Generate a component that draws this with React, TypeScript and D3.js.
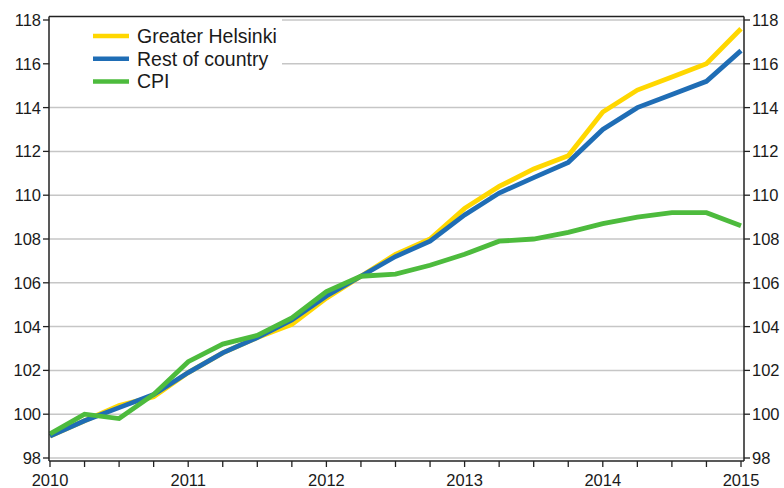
import { line, range, scaleLinear } from 'd3'

const quarters = [
  '2010Q1', '2010Q2', '2010Q3', '2010Q4',
  '2011Q1', '2011Q2', '2011Q3', '2011Q4',
  '2012Q1', '2012Q2', '2012Q3', '2012Q4',
  '2013Q1', '2013Q2', '2013Q3', '2013Q4',
  '2014Q1', '2014Q2', '2014Q3', '2014Q4',
  '2015Q1',
]

const greaterHelsinki = [
  99.0, 99.7, 100.4, 100.8, 101.9, 102.8, 103.5, 104.1, 105.3, 106.3, 107.3,
  108.0, 109.4, 110.4, 111.2, 111.8, 113.8, 114.8, 115.4, 116.0, 117.6,
]
const restOfCountry = [
  99.0, 99.7, 100.3, 100.9, 101.9, 102.8, 103.5, 104.3, 105.4, 106.3, 107.2,
  107.9, 109.1, 110.1, 110.8, 111.5, 113.0, 114.0, 114.6, 115.2, 116.6,
]
const cpi = [
  99.1, 100.0, 99.8, 100.9, 102.4, 103.2, 103.6, 104.4, 105.6, 106.3, 106.4,
  106.8, 107.3, 107.9, 108.0, 108.3, 108.7, 109.0, 109.2, 109.2, 108.6,
]

const yearLabels = ['2010', '2011', '2012', '2013', '2014', '2015']
const yTicks = [98, 100, 102, 104, 106, 108, 110, 112, 114, 116, 118]

const series = [
  { name: 'Greater Helsinki', values: greaterHelsinki, color: '#ffd700' },
  { name: 'Rest of country', values: restOfCountry, color: '#1f6db5' },
  { name: 'CPI', values: cpi, color: '#4dbb3d' },
]

function quarterToYear(q: string) {
  return Number(q.slice(0, 4)) + (Number(q.slice(5)) - 1) / 4
}

const width = 784
const height = 488
const frame = { left: 49, right: 744, top: 16.5, bottom: 461 }
const font = '"Liberation Sans", Arial, sans-serif'

export default function App() {
  const x = scaleLinear().domain([2010, 2015]).range([50, 741])
  const y = scaleLinear().domain([98, 118]).range([458, 20])
  const quarterTicks = quarters.map(quarterToYear)

  const path = line<number>()
    .x((_, i) => x(quarterToYear(quarters[i])))
    .y(d => y(d))

  return (
    <svg
      width={width}
      height={height}
      style={{ position: 'absolute', left: 0, top: 0, background: '#fff' }}
    >
      {yTicks.map(t => (
        <line
          key={`g${t}`}
          x1={frame.left}
          x2={frame.right}
          y1={y(t)}
          y2={y(t)}
          stroke="#c6c6c6"
          strokeWidth={1.5}
        />
      ))}

      {/* legend box hides the grid behind it */}
      <rect x={frame.left + 1} y={frame.top + 1} width={232} height={84} fill="#fff" />
      {series.map((s, i) => (
        <g key={s.name} transform={`translate(0, ${36 + i * 22.7})`}>
          <line x1={93} x2={129} stroke={s.color} strokeWidth={4.5} />
          <text x={137} dy="0.36em" fontFamily={font} fontSize={19.5} fill="#1a1a1a">
            {s.name}
          </text>
        </g>
      ))}

      {series.map(s => (
        <path
          key={s.name}
          d={path(s.values) ?? ''}
          fill="none"
          stroke={s.color}
          strokeWidth={4.8}
          strokeLinejoin="miter"
        />
      ))}

      {/* frame */}
      <line x1={frame.left} x2={frame.right} y1={frame.top} y2={frame.top} stroke="#222" strokeWidth={1.3} />
      <line x1={frame.left} x2={frame.right} y1={frame.bottom} y2={frame.bottom} stroke="#222" strokeWidth={1.5} />
      <line x1={frame.left} x2={frame.left} y1={frame.top} y2={frame.bottom} stroke="#222" strokeWidth={1.5} />
      <line x1={frame.right} x2={frame.right} y1={frame.top} y2={frame.bottom} stroke="#222" strokeWidth={1.5} />

      {yTicks.map(t => (
        <g key={`t${t}`}>
          <line x1={frame.left - 6} x2={frame.left} y1={y(t)} y2={y(t)} stroke="#222" strokeWidth={1.3} />
          <line x1={frame.right} x2={frame.right + 6} y1={y(t)} y2={y(t)} stroke="#222" strokeWidth={1.3} />
          <text x={frame.left - 8} y={y(t)} dy="0.36em" textAnchor="end" fontFamily={font} fontSize={16.5} fill="#1a1a1a">
            {t}
          </text>
          <text x={frame.right + 8} y={y(t)} dy="0.36em" fontFamily={font} fontSize={16.5} fill="#1a1a1a">
            {t}
          </text>
        </g>
      ))}

      {quarterTicks.map(q => (
        <line key={`q${q}`} x1={x(q)} x2={x(q)} y1={frame.bottom} y2={frame.bottom + 6} stroke="#222" strokeWidth={1.3} />
      ))}
      {range(yearLabels.length).map(i => (
        <text
          key={yearLabels[i]}
          x={x(Number(yearLabels[i]))}
          y={486}
          textAnchor="middle"
          fontFamily={font}
          fontSize={16.5}
          fill="#1a1a1a"
        >
          {yearLabels[i]}
        </text>
      ))}
    </svg>
  )
}
